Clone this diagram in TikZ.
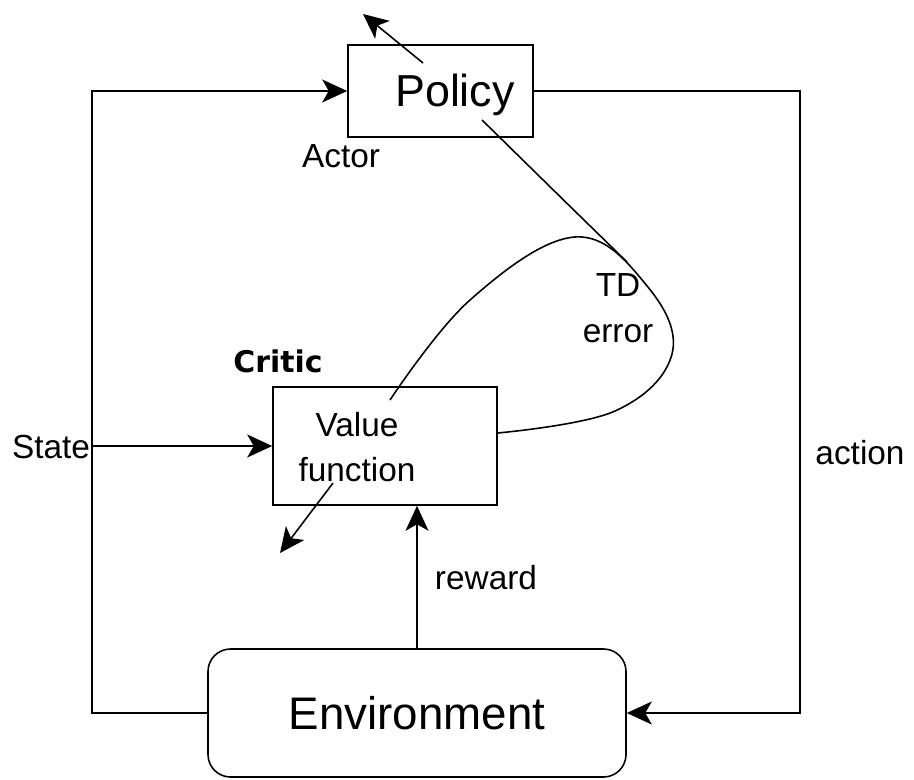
\documentclass[tikz,border=0pt]{standalone}
\usepackage{fontspec}
\setmainfont{Liberation Sans}
\newfontfamily\criticfont{DejaVu Sans}
\usetikzlibrary{arrows.meta}

\begin{document}
\begin{tikzpicture}[
  box/.style={draw, line width=0.9pt, inner sep=0pt},
  lbl/.style={font=\fontsize{19}{26}\selectfont, align=center, inner sep=0pt},
  conn/.style={line width=0.9pt},
  arr/.style={conn, -{Stealth[length=5mm,width=4.6mm,inset=1.3mm]}}
]
\useasboundingbox (0,0) rectangle (18.28,15.58);
% boxes
\node[box, minimum width=3.7cm, minimum height=1.84cm] (policy) at (8.81,13.76) {};
\node[lbl, font=\fontsize{25.5}{30}\selectfont] (policytxt) at (9.1,13.68) {Policy};
\node[box, minimum width=4.48cm, minimum height=2.36cm] (critic) at (7.70,6.66) {};
\node[lbl] (vftxt) at (7.14,6.64) {Value\\function};
\node[box, rounded corners=0.45cm, minimum width=8.36cm, minimum height=2.56cm,
  font=\fontsize{26}{30}\selectfont] (env) at (8.34,1.32) {Environment};
% labels
\node[lbl] (actor) at (6.82,12.45) {Actor};
\node[lbl, font=\criticfont\bfseries\fontsize{17}{20}\selectfont] (crit) at (5.56,8.36) {Critic};
\node[lbl] (state) at (1.02,6.64) {State};
\node[lbl] (action) at (17.2,6.52) {action};
\node[lbl] (reward) at (9.72,4.02) {reward};
\node[lbl] (tderr) at (12.36,9.42) {TD\\error};
% corners and free ends
\coordinate (lft) at (1.84,1.32);
\coordinate (rgt) at (16.0,13.76);
\coordinate (pin) at (8.46,14.32);
\coordinate (pout) at (7.26,15.30);
\coordinate (vin) at (6.66,5.92);
\coordinate (vout) at (5.6,4.52);
\coordinate (tdtop) at (9.64,13.18);
\coordinate (tdend) at (12.54,10.34);
\coordinate (loopin) at (7.8,7.58);
% connectors
\draw[arr] (env.west) -- (lft) |- (policy.west);
\draw[arr] (policy.east) -- (rgt) |- (env.east);
\draw[arr] (lft |- critic.west) -- (critic.west);
\draw[arr] (env.north) -- (env.north |- critic.south);
\draw[arr] (pin) -- (pout);
\draw[arr] (vin) -- (vout);
\draw[conn] (tdtop) .. controls (11.3,11.55) .. (tdend);
\draw[conn] plot[smooth, tension=0.65] coordinates {(loopin) (9.4,9.58) (11.5,10.84) (12.95,9.85) (13.44,8.5) (12.3,7.36) ([yshift=0.26cm]critic.east)};
\end{tikzpicture}
\end{document}
